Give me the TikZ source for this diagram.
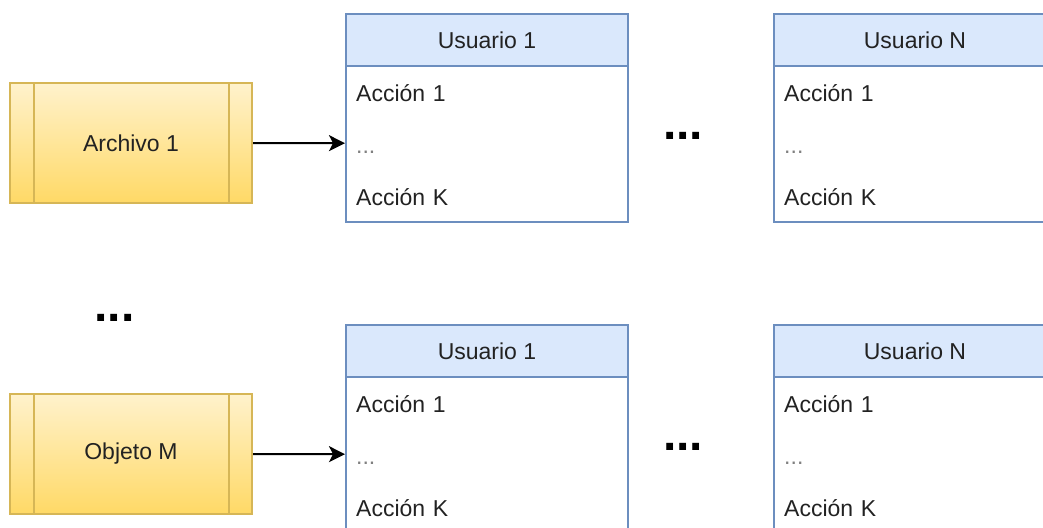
\documentclass[tikz,border=0pt]{standalone}
\usepackage{fontspec}
\setmainfont{Liberation Sans}
\usetikzlibrary{arrows.meta}
\definecolor{yelTop}{HTML}{FFF2CC}
\definecolor{yelBot}{HTML}{FFD966}
\definecolor{yelLine}{HTML}{D6B656}
\definecolor{bluLine}{HTML}{6C8EBF}
\definecolor{bluFill}{HTML}{DAE8FC}
\definecolor{txt}{HTML}{222222}
\newcommand{\userbox}[4]{%
  \node[body] (#1b) at (#2,#3+52) {};
  \node[hdr] (#1h) at (#2,#3) {#4};
  \node[row] (#1r1) at (#2,#3+52) {Acción 1};
  \node[rowdots] (#1r2) at (#2,#3+104) {...};
  \node[row] (#1r3) at (#2,#3+156) {Acción K};
}
\begin{document}
\begin{tikzpicture}[x=1pt,y=-1pt,
  every node/.style={font=\fontsize{23}{27}\selectfont, text=txt},
  proc/.style={draw=yelLine, line width=2pt, top color=yelTop, bottom color=yelBot, minimum width=242pt, minimum height=120pt, inner sep=0pt},
  hdr/.style={draw=bluLine, line width=2pt, fill=bluFill, minimum width=282pt, minimum height=52pt, inner sep=0pt, anchor=north west},
  body/.style={draw=bluLine, line width=2pt, fill=white, minimum width=282pt, minimum height=156pt, inner sep=0pt, anchor=north west},
  row/.style={minimum height=52pt, text width=260pt, text height=22pt, text depth=2pt, inner xsep=11pt, inner ysep=0pt, align=left, anchor=north west},
  rowdots/.style={row, text=gray},
  bigdots/.style={font=\fontsize{48}{50}\selectfont\bfseries, inner sep=0pt, anchor=base, text=black},
  divider/.style={draw=yelLine, line width=2pt},
  link/.style={-{Stealth[length=16pt,width=16pt,inset=4pt]}, line width=2pt, draw=black}
]
\useasboundingbox (0,0) rectangle (1043,527);
\clip (0,0) rectangle (1043,527);

% top row
\node[proc] (a1) at (131,143) {Archivo 1};
\draw[divider] ([xshift=25pt]a1.north west) -- ([xshift=25pt]a1.south west);
\draw[divider] ([xshift=-24pt]a1.north east) -- ([xshift=-24pt]a1.south east);
\userbox{ua}{345}{13}{Usuario 1}
\userbox{un}{773}{13}{Usuario N}
\node[bigdots] (d1) at (683,139.5) {...};
\draw[link] (a1.east) -- (uar2.west);

% separator dots
\node[bigdots] (d2) at (114.5,321.5) {...};

% bottom row
\node[proc] (om) at (131,454) {Objeto M};
\draw[divider] ([xshift=25pt]om.north west) -- ([xshift=25pt]om.south west);
\draw[divider] ([xshift=-24pt]om.north east) -- ([xshift=-24pt]om.south east);
\userbox{va}{345}{324}{Usuario 1}
\userbox{vn}{773}{324}{Usuario N}
\node[bigdots] (d3) at (683,450.5) {...};
\draw[link] (om.east) -- (var2.west);
\end{tikzpicture}
\end{document}
